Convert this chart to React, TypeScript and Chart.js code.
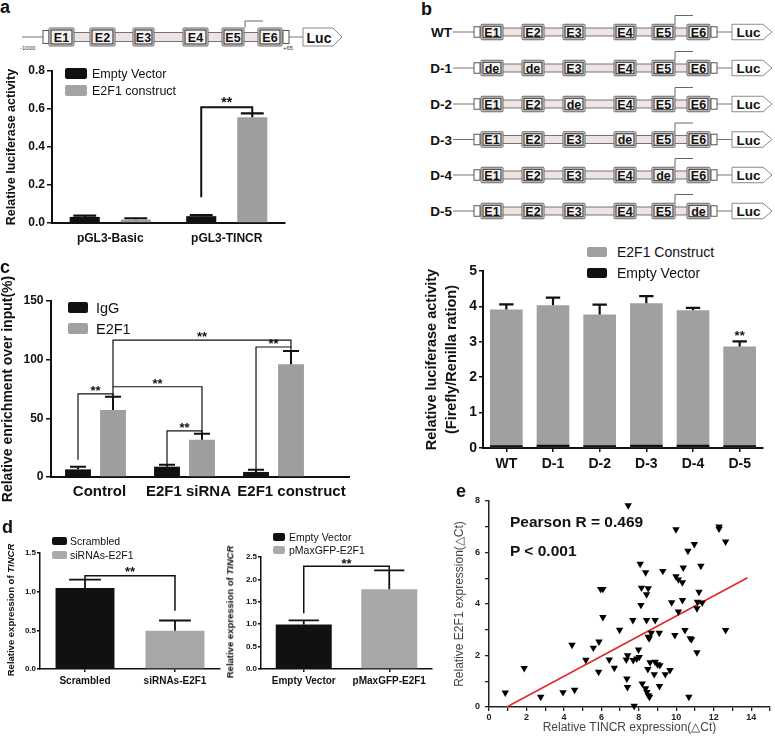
import React, { useEffect, useRef } from 'react';
import { Chart, registerables } from 'chart.js';

Chart.register(...registerables);

const FONT = '"Liberation Sans", Arial, Helvetica, sans-serif';
const INK = '#111111';
const GRAY = '#9e9e9e';

// ---------------- data ----------------
// panel a
const aGroups = ['pGL3-Basic', 'pGL3-TINCR'];
const aEmptyVector = [0.032, 0.036];
const aEmptyVectorErr = [0.007, 0.006];
const aE2F1Construct = [0.018, 0.556];
const aE2F1ConstructErr = [0.007, 0.021];

// panel b
const exonNames = ['E1', 'E2', 'E3', 'E4', 'E5', 'E6'];
const bConstructs = ['WT', 'D-1', 'D-2', 'D-3', 'D-4', 'D-5'];
const bRowExons = [
  ['E1', 'E2', 'E3', 'E4', 'E5', 'E6'],
  ['de', 'de', 'E3', 'E4', 'E5', 'E6'],
  ['E1', 'E2', 'de', 'E4', 'E5', 'E6'],
  ['E1', 'E2', 'E3', 'de', 'E5', 'E6'],
  ['E1', 'E2', 'E3', 'E4', 'de', 'E6'],
  ['E1', 'E2', 'E3', 'E4', 'E5', 'de'],
];
const bE2F1Construct = [3.91, 4.03, 3.77, 4.09, 3.89, 2.87];
const bE2F1ConstructErr = [0.15, 0.22, 0.28, 0.2, 0.07, 0.14];
const bEmptyVector = [0.08, 0.09, 0.08, 0.09, 0.09, 0.08];

// panel c
const cGroups = ['Control', 'E2F1 siRNA', 'E2F1 construct'];
const cIgG = [6.5, 8.8, 4.3];
const cIgGErr = [2.3, 1.7, 1.8];
const cE2F1 = [57, 31.7, 96.2];
const cE2F1Err = [11.3, 5.1, 11.1];

// panel d
const dLeftGroups = ['Scrambled', 'siRNAs-E2F1'];
const dLeftValues = [1.046, 0.493];
const dLeftErr = [0.11, 0.134];
const dRightGroups = ['Empty Vector', 'pMaxGFP-E2F1'];
const dRightValues = [0.994, 1.78];
const dRightErr = [0.09, 0.42];

// panel e
const eTincr = [
  0.87, 1.88, 2.76, 3.95, 4.43, 4.57, 5.17, 5.57, 5.87, 5.85, 5.96, 6.08, 6.08, 6.42, 6.69, 6.97,
  7.43, 7.36, 7.39, 7.33, 7.40, 7.70, 7.89, 8.02, 7.98, 7.68, 7.75, 8.18, 8.36, 8.43, 8.51, 8.57,
  8.48, 8.60, 8.82, 8.87, 9.00, 9.12, 9.10, 9.41, 9.66, 8.55, 8.50, 8.66, 9.09, 8.41, 8.87, 8.11,
  8.41, 8.14, 8.50, 8.07, 8.36, 9.28, 9.92, 10.46, 10.74, 10.81, 11.10, 10.67, 12.63, 9.75, 10.11,
  10.33, 11.10, 11.13, 11.38, 11.21, 9.98, 10.11, 10.32, 10.37, 11.31, 10.62, 10.96, 9.98, 12.28,
  12.28, 12.63,
];
const eE2F1 = [
  0.56, 1.51, 0.39, 0.57, 2.41, 0.66, 1.83, 2.30, 2.54, 1.36, 4.58, 4.58, 3.49, 1.84, 1.52, 2.99,
  7.83, 1.10, 0.77, 1.84, 2.00, 1.82, 1.88, 1.94, 2.23, 3.37, 0.04, 0.91, 0.72, 0.58, 0.45, 0.39,
  1.47, 1.73, 1.27, 1.75, 1.65, 1.62, 0.81, 1.27, 1.43, 2.66, 2.72, 2.88, 2.88, 3.37, 3.37, 3.96,
  4.37, 4.63, 4.61, 5.56, 5.23, 5.28, 2.79, 2.98, 2.66, 2.63, 2.12, 0.39, 2.98, 4.06, 3.70,
  4.15, 3.83, 4.08, 4.05, 4.47, 5.07, 4.95, 4.84, 5.41, 5.48, 6.06, 6.32, 6.90, 6.92,
  7.00, 6.42,
];
const eFitX = [0.95, 13.8];
const eFitY = [0, 5.02];

// ---------------- plugins ----------------
const errorBars = {
  id: 'errbars',
  afterDatasetsDraw(chart: any, _a: any, opts: any) {
    const errs = opts.errors;
    if (!errs) return;
    const ctx = chart.ctx;
    const ys = chart.scales.y;
    ctx.save();
    ctx.strokeStyle = opts.color || INK;
    ctx.lineWidth = opts.lineWidth || 2;
    errs.forEach((arr: number[] | null, di: number) => {
      if (!arr) return;
      const meta = chart.getDatasetMeta(di);
      meta.data.forEach((el: any, i: number) => {
        const e = arr[i];
        if (e == null) return;
        const v = chart.data.datasets[di].data[i];
        const yTop = ys.getPixelForValue(v);
        const yE = ys.getPixelForValue(v + e);
        const half = el.width * (opts.cap ?? 0.3);
        ctx.beginPath();
        ctx.moveTo(el.x, yTop);
        ctx.lineTo(el.x, yE);
        ctx.moveTo(el.x - half, yE);
        ctx.lineTo(el.x + half, yE);
        ctx.stroke();
      });
    });
    ctx.restore();
  },
};

const brackets = {
  id: 'brackets',
  afterDatasetsDraw(chart: any, _a: any, opts: any) {
    const items = opts.items || [];
    const ctx = chart.ctx;
    const ys = chart.scales.y;
    ctx.save();
    ctx.strokeStyle = INK;
    ctx.fillStyle = INK;
    ctx.lineWidth = opts.lineWidth || 1.5;
    ctx.font = `bold ${opts.size || 13}px ${FONT}`;
    ctx.textAlign = 'center';
    ctx.textBaseline = 'alphabetic';
    items.forEach((b: any) => {
      const x1 = chart.getDatasetMeta(b.a[0]).data[b.a[1]].x;
      const x2 = chart.getDatasetMeta(b.b[0]).data[b.b[1]].x;
      const y = ys.getPixelForValue(b.y);
      if (!b.textOnly) {
        ctx.beginPath();
        ctx.moveTo(x1, ys.getPixelForValue(b.y1));
        ctx.lineTo(x1, y);
        ctx.lineTo(x2, y);
        ctx.lineTo(x2, ys.getPixelForValue(b.y2));
        ctx.stroke();
      }
      ctx.fillText('**', (x1 + x2) / 2, y + (opts.dy ?? 0));
    });
    ctx.restore();
  },
};

const extendX = {
  id: 'extendX',
  afterDraw(chart: any, _a: any, opts: any) {
    if (!opts.by) return;
    const { ctx, chartArea } = chart;
    ctx.save();
    ctx.strokeStyle = INK;
    ctx.lineWidth = opts.width || 2;
    ctx.beginPath();
    ctx.moveTo(chartArea.right - 1, chartArea.bottom);
    ctx.lineTo(chartArea.right + opts.by, chartArea.bottom);
    ctx.stroke();
    ctx.restore();
  },
};

// category labels drawn under the axis with a small per-label nudge (as in the original figure)
const catLabels = {
  id: 'catLabels',
  afterDraw(chart: any, _a: any, opts: any) {
    if (!opts.size) return;
    const { ctx, chartArea } = chart;
    const xs = chart.scales.x;
    const labels = chart.data.labels;
    ctx.save();
    ctx.fillStyle = INK;
    ctx.font = `bold ${opts.size}px ${FONT}`;
    ctx.textAlign = 'center';
    ctx.textBaseline = 'middle';
    labels.forEach((lab: string, i: number) => {
      ctx.fillText(lab, xs.getPixelForValue(i) + (opts.shift?.[i] || 0), chartArea.bottom + opts.dy);
    });
    ctx.restore();
  },
};

// ---------------- scale helpers ----------------
function yAxis(o: any) {
  const ticks: any = {
    stepSize: o.step,
    padding: o.pad,
    color: o.color || INK,
    font: { family: FONT, size: o.size, weight: 'bold' },
  };
  if (o.fmt) ticks.callback = (v: any) => o.fmt(Number(v));
  return {
    type: 'linear',
    min: o.min,
    max: o.max,
    ticks,
    grid: { drawOnChartArea: false, drawTicks: true, tickLength: o.tl, color: INK, lineWidth: o.tw || 1.5 },
    border: { display: true, color: INK, width: o.bw || 2 },
    title: o.title || { display: false },
    afterFit: (s: any) => {
      s.width = o.width;
    },
  };
}

function xCat(o: any) {
  return {
    type: 'category',
    offset: true,
    ticks: {
      display: o.hideLabels ? false : true,
      padding: o.pad,
      color: INK,
      font: { family: FONT, size: o.size, weight: 'bold' },
      maxRotation: 0,
      autoSkip: false,
    },
    grid: {
      display: !!o.tl,
      drawOnChartArea: false,
      drawTicks: !!o.tl,
      tickLength: o.tl || 0,
      offset: false,
      color: INK,
      lineWidth: 1.5,
    },
    border: { display: true, color: INK, width: o.bw || 2 },
    afterFit: (s: any) => {
      s.height = o.height;
    },
  };
}

const baseOpts = (pad: any) => ({
  responsive: false,
  animation: false,
  devicePixelRatio: 1,
  layout: { padding: pad },
  events: [],
});

// ---------------- chart configs ----------------
function configA() {
  return {
    type: 'bar',
    data: {
      labels: aGroups,
      datasets: [
        { label: 'Empty Vector', data: aEmptyVector, backgroundColor: INK, categoryPercentage: 0.876, barPercentage: 0.59 },
        { label: 'E2F1 construct', data: aE2F1Construct, backgroundColor: GRAY, categoryPercentage: 0.876, barPercentage: 0.59 },
      ],
    },
    options: {
      ...baseOpts({ top: 11, right: 15, left: 0, bottom: 0 }),
      plugins: {
        legend: { display: false },
        tooltip: { enabled: false },
        errbars: { errors: [aEmptyVectorErr, aE2F1ConstructErr], cap: 0.38, lineWidth: 2.2 },
        brackets: { size: 14, lineWidth: 2, dy: 0, items: [{ a: [0, 1], b: [1, 1], y: 0.609, y1: 0.135, y2: 0.577 }] },
      },
      scales: {
        x: xCat({ height: 32, size: 12, pad: 8 }),
        y: yAxis({
          min: 0, max: 0.8, step: 0.2, width: 52, size: 12, tl: 5, pad: 2,
          fmt: (v: number) => v.toFixed(1),
          title: { display: true, text: 'Relative luciferase activity', color: INK, font: { family: FONT, size: 12.5, weight: 'bold' }, padding: { top: 4.5, bottom: 0 } },
        }),
      },
    },
    plugins: [errorBars, brackets],
  };
}

function configB() {
  return {
    type: 'bar',
    data: {
      labels: bConstructs,
      datasets: [
        { label: 'Empty Vector', data: bEmptyVector, backgroundColor: INK, grouped: false, categoryPercentage: 1, barPercentage: 0.7 },
        { label: 'E2F1 Construct', data: bE2F1Construct, backgroundColor: '#a0a0a3', grouped: false, categoryPercentage: 1, barPercentage: 0.7 },
      ],
    },
    options: {
      ...baseOpts({ top: 11, right: 12, left: 0, bottom: 0 }),
      plugins: {
        legend: { display: false },
        tooltip: { enabled: false },
        errbars: { errors: [null, bE2F1ConstructErr], cap: 0.22, lineWidth: 2.2 },
        brackets: { size: 13, dy: 0, items: [{ a: [1, 5], b: [1, 5], y: 3.06, textOnly: true }] },
      },
      scales: {
        x: xCat({ height: 32, size: 14, pad: 4, tl: 4 }),
        y: yAxis({
          min: 0, max: 5, step: 1, width: 93, size: 14, tl: 4, pad: 2,
          title: {
            display: true,
            text: ['Relative luciferase activity', '(Firefly/Renilla ration)'],
            color: INK,
            font: { family: FONT, size: 14.5, weight: 'bold', lineHeight: 1.4 },
            padding: { top: 32, bottom: 0 },
          },
        }),
      },
    },
    plugins: [errorBars, brackets],
  };
}

function configC() {
  return {
    type: 'bar',
    data: {
      labels: cGroups,
      datasets: [
        { label: 'IgG', data: cIgG, backgroundColor: INK, categoryPercentage: 0.786, barPercentage: 0.74 },
        { label: 'E2F1', data: cE2F1, backgroundColor: GRAY, categoryPercentage: 0.786, barPercentage: 0.74 },
      ],
    },
    options: {
      ...baseOpts({ top: 46, right: 72, left: 0, bottom: 0 }),
      plugins: {
        legend: { display: false },
        tooltip: { enabled: false },
        errbars: { errors: [cIgGErr, cE2F1Err], cap: 0.31, lineWidth: 2 },
        brackets: {
          size: 13, lineWidth: 1.2, dy: 1,
          items: [
            { a: [0, 0], b: [1, 0], y: 70.8, y1: 14.7, y2: 68.3 },
            { a: [1, 0], b: [1, 1], y: 76.9, y1: 68.3, y2: 37.2 },
            { a: [0, 1], b: [1, 1], y: 39.3, y1: 10.5, y2: 36.8 },
            { a: [1, 0], b: [1, 2], y: 116.7, y1: 76.9, y2: 110.8 },
            { a: [0, 2], b: [1, 2], y: 110.8, y1: 6.2, y2: 107.3 },
          ],
        },
        extendX: { by: 32, width: 2 },
        catLabels: { size: 15, dy: 15, shift: [4, 4, 18] },
      },
      scales: {
        x: xCat({ height: 28, size: 15, pad: 6, hideLabels: true }),
        y: yAxis({
          min: 0, max: 150, step: 50, width: 51, size: 12, tl: 5, pad: 2.5,
          title: { display: true, text: 'Relative enrichment over input(%)', color: INK, font: { family: FONT, size: 14, weight: 'bold' }, padding: { top: 0, bottom: 0 } },
        }),
      },
    },
    plugins: [errorBars, brackets, extendX, catLabels],
  };
}

function configD(labels: string[], values: number[], errs: number[], max: number, yWidth: number, pad: any, bracket: any, dy: number) {
  return {
    type: 'bar',
    data: {
      labels,
      datasets: [
        { data: values, backgroundColor: [INK, '#a8a8a8'], categoryPercentage: 1, barPercentage: 0.655 },
      ],
    },
    options: {
      ...baseOpts(pad),
      plugins: {
        legend: { display: false },
        tooltip: { enabled: false },
        errbars: { errors: [errs], cap: 0.27, lineWidth: 1.8 },
        brackets: { size: 13, lineWidth: 1.5, dy, items: [bracket] },
      },
      scales: {
        x: xCat({ height: 31, size: 10, pad: 3, tl: 3, bw: 1.5 }),
        y: yAxis({ min: 0, max, step: 0.5, width: yWidth, size: 8, tl: 3, pad: 1, bw: 1.5, fmt: (v: number) => v.toFixed(1) }),
      },
    },
    plugins: [errorBars, brackets],
  };
}

function configE() {
  const pts = eTincr.map((x, i) => ({ x, y: eE2F1[i] }));
  const fit = eFitX.map((x, i) => ({ x, y: eFitY[i] }));
  const tickFont = { family: FONT, size: 9, weight: 'bold' };
  return {
    type: 'scatter',
    data: {
      datasets: [
        { data: pts, pointStyle: 'triangle', rotation: 180, radius: 4.3, backgroundColor: '#000', borderWidth: 0, clip: false },
        { type: 'line', data: fit, borderColor: '#e3262b', borderWidth: 1.6, pointRadius: 0, showLine: true, fill: false },
      ],
    },
    options: {
      ...baseOpts({ top: 16, right: 5, left: 0, bottom: 0 }),
      plugins: { legend: { display: false }, tooltip: { enabled: false } },
      scales: {
        x: {
          type: 'linear', min: 0, max: 15,
          ticks: { stepSize: 1, padding: 1, color: '#222', font: tickFont, callback: (v: any) => (Number(v) % 2 === 0 && Number(v) <= 14 ? String(v) : '') },
          grid: { drawOnChartArea: false, drawTicks: true, tickLength: 4, color: '#222', lineWidth: 1.3 },
          border: { display: true, color: '#222', width: 1.5 },
          title: { display: true, text: 'Relative TINCR expression(△Ct)', color: '#444', font: { family: FONT, size: 12 }, padding: { top: 0, bottom: 8.8 } },
          afterFit: (s: any) => { s.height = 37; },
        },
        y: {
          type: 'linear', min: 0, max: 8,
          ticks: { stepSize: 1, padding: 5, color: '#222', font: tickFont, callback: (v: any) => (Number(v) % 2 === 0 ? String(v) : '') },
          grid: { drawOnChartArea: false, drawTicks: true, tickLength: 4, color: '#222', lineWidth: 1.3 },
          border: { display: true, color: '#222', width: 1.5 },
          title: { display: true, text: 'Relative E2F1 expression(△Ct)', color: '#444', font: { family: FONT, size: 12 }, padding: { top: 12.8, bottom: 0 } },
          afterFit: (s: any) => { s.width = 49; },
        },
      },
    },
  };
}

// ---------------- components ----------------
function ChartBox({ left, top, width, height, make }: { left: number; top: number; width: number; height: number; make: () => any }) {
  const ref = useRef<HTMLCanvasElement | null>(null);
  useEffect(() => {
    if (!ref.current) return;
    const chart = new Chart(ref.current, make());
    return () => chart.destroy();
  }, []);
  return (
    <canvas
      ref={ref}
      width={width}
      height={height}
      style={{ position: 'absolute', left, top, width, height }}
    />
  );
}

function Txt({ x, cy, size, bold, children, color, italic }: any) {
  return (
    <div
      style={{
        position: 'absolute',
        left: x,
        top: cy,
        transform: 'translateY(-50%)',
        fontFamily: FONT,
        fontSize: size,
        fontWeight: bold ? 'bold' : 'normal',
        fontStyle: italic ? 'italic' : 'normal',
        color: color || INK,
        lineHeight: 1,
        whiteSpace: 'nowrap',
      }}
    >
      {children}
    </div>
  );
}

function PanelLetter({ x, baseline, children }: any) {
  const size = 18;
  return (
    <div style={{ position: 'absolute', left: x, top: baseline - 0.8465 * size, fontFamily: FONT, fontSize: size, fontWeight: 'bold', lineHeight: 1, color: INK }}>
      {children}
    </div>
  );
}

function Swatch({ x1, y1, x2, y2, color }: any) {
  return <div style={{ position: 'absolute', left: x1, top: y1, width: x2 - x1, height: y2 - y1, background: color, borderRadius: 2 }} />;
}

function VText({ cx, cy, size, children, bold, color }: any) {
  return (
    <div
      style={{
        position: 'absolute',
        left: cx,
        top: cy,
        transform: 'translate(-50%, -50%) rotate(-90deg)',
        fontFamily: FONT,
        fontSize: size,
        fontWeight: bold ? 'bold' : 'normal',
        color: color || INK,
        lineHeight: 1,
        whiteSpace: 'nowrap',
      }}
    >
      {children}
    </div>
  );
}

function GeneRow(p: {
  cy: number; lineX1: number; brL: number[]; exons: number[][]; labels: string[]; brR: number[];
  luc: number[]; h: number; band: number; promX: number; promTop: number; promEnd: number; fs: number; lucFs: number;
}) {
  const { cy, h, band } = p;
  const lucTip = p.luc[1] - 9;
  return (
    <g>
      <line x1={p.lineX1} y1={cy} x2={p.luc[0]} y2={cy} stroke="#777" strokeWidth={1} />
      <rect x={p.brL[1]} y={cy - band / 2} width={p.brR[0] - p.brL[1]} height={band} fill="#efe4e4" stroke="#666" strokeWidth={0.9} />
      <rect x={p.brL[0]} y={cy - h / 2 + 2.5} width={p.brL[1] - p.brL[0]} height={h - 5} fill="#fff" stroke="#555" strokeWidth={1} />
      <rect x={p.brR[0]} y={cy - h / 2 + 2.5} width={p.brR[1] - p.brR[0]} height={h - 5} fill="#fff" stroke="#555" strokeWidth={1} />
      {p.exons.map((e, i) => (
        <g key={i}>
          <rect x={e[0]} y={cy - h / 2} width={e[1] - e[0]} height={h} fill="#e9e3e3" stroke="#666" strokeWidth={1} rx={1} />
          <rect x={e[0] + 2} y={cy - h / 2 + 2} width={e[1] - e[0] - 4} height={h - 4} fill="#f5f1f1" stroke="#333" strokeWidth={1.1} />
          <text x={(e[0] + e[1]) / 2} y={cy + 0.5} textAnchor="middle" dominantBaseline="central" fontFamily={FONT} fontWeight="bold" fontSize={p.fs} fill="#111">
            {p.labels[i]}
          </text>
        </g>
      ))}
      <polygon
        points={`${p.luc[0]},${cy - h / 2} ${lucTip},${cy - h / 2} ${p.luc[1]},${cy} ${lucTip},${cy + h / 2} ${p.luc[0]},${cy + h / 2}`}
        fill="#fff"
        stroke="#888"
        strokeWidth={1}
      />
      <text x={(p.luc[0] + lucTip) / 2 + 1} y={cy + 0.5} textAnchor="middle" dominantBaseline="central" fontFamily={FONT} fontWeight="bold" fontSize={p.lucFs} fill="#111">
        Luc
      </text>
      <path d={`M${p.promX},${cy - h / 2} V${p.promTop} H${p.promEnd}`} fill="none" stroke="#666" strokeWidth={1} />
    </g>
  );
}

const aExonPos = [[49, 74], [90, 115], [133, 154], [183, 208], [222, 244], [258, 282]];
const bExonPos = [[481, 503], [522, 544], [563, 585], [614, 636], [652, 675], [687, 710]];
const bRowY = [32, 68, 104, 139.5, 175, 211];

function Diagrams() {
  return (
    <svg width={775} height={260} style={{ position: 'absolute', left: 0, top: 0 }}>
      <GeneRow
        cy={37} lineX1={22} brL={[43, 49]} exons={aExonPos} labels={exonNames} brR={[283, 289]}
        luc={[303, 342]} h={18} band={9} promX={245} promTop={21} promEnd={263} fs={12.5} lucFs={14}
      />
      <text x={20} y={50} fontFamily={FONT} fontSize={6} fill="#333">-1000</text>
      <text x={283} y={50} fontFamily={FONT} fontSize={6} fill="#333">+65</text>
      {bConstructs.map((name, r) => (
        <g key={name}>
          <text x={452} y={bRowY[r] + 0.5} textAnchor="end" dominantBaseline="central" fontFamily={FONT} fontWeight="bold" fontSize={13.5} fill="#111">
            {name}
          </text>
          <GeneRow
            cy={bRowY[r]} lineX1={453} brL={[474, 480]} exons={bExonPos} labels={bRowExons[r]} brR={[711, 717]}
            luc={[732, 772]} h={15.5} band={8} promX={675} promTop={bRowY[r] - 16.5} promEnd={693} fs={12.5} lucFs={13.5}
          />
        </g>
      ))}
    </svg>
  );
}

export default function App() {
  return (
    <div style={{ position: 'absolute', left: 0, top: 0, width: 775, height: 744, background: '#fff', overflow: 'hidden' }}>
      <Diagrams />
      <ChartBox left={0} top={60} width={300} height={195} make={configA} />
      <ChartBox left={390} top={260} width={385} height={220} make={configB} />
      <ChartBox left={0} top={255} width={390} height={250} make={configC} />
      <ChartBox
        left={0} top={530} width={235} height={170}
        make={() => configD(dLeftGroups, dLeftValues, dLeftErr, 1.5, 40, { top: 23, right: 15, left: 0, bottom: 0 },
          { a: [0, 0], b: [0, 1], y: 1.206, y1: 1.156, y2: 0.752 }, 0)}
      />
      <ChartBox
        left={235} top={530} width={215} height={170}
        make={() => configD(dRightGroups, dRightValues, dRightErr, 2.5, 26, { top: 27, right: 18, left: 0, bottom: 0 },
          { a: [0, 0], b: [0, 1], y: 2.294, y1: 1.247, y2: 2.2 }, 2)}
      />
      <ChartBox left={440} top={485} width={335} height={259} make={configE} />

      {/* panel letters */}
      <PanelLetter x={0} baseline={13}>a</PanelLetter>
      <PanelLetter x={421} baseline={15}>b</PanelLetter>
      <PanelLetter x={0} baseline={273}>c</PanelLetter>
      <PanelLetter x={2} baseline={533}>d</PanelLetter>
      <PanelLetter x={456} baseline={497}>e</PanelLetter>

      {/* legend a */}
      <Swatch x1={65} y1={68} x2={87} y2={79} color={INK} />
      <Txt x={92} cy={73.5} size={12.5}>Empty Vector</Txt>
      <Swatch x1={65} y1={85} x2={87} y2={96} color="#a3a3a3" />
      <Txt x={92} cy={90.5} size={12.5}>E2F1 construct</Txt>

      {/* legend b */}
      <Swatch x1={587} y1={247} x2={607} y2={257} color="#a0a0a3" />
      <Txt x={617} cy={252} size={14}>E2F1 Construct</Txt>
      <Swatch x1={587} y1={268} x2={607} y2={278} color={INK} />
      <Txt x={617} cy={273} size={14}>Empty Vector</Txt>

      {/* legend c */}
      <Swatch x1={68} y1={302} x2={88} y2={313} color={INK} />
      <Txt x={96} cy={308} size={14.5}>IgG</Txt>
      <Swatch x1={68} y1={323} x2={88} y2={334} color="#a0a0a0" />
      <Txt x={96} cy={328.5} size={14.5}>E2F1</Txt>

      {/* legend d left */}
      <Swatch x1={52} y1={537} x2={67} y2={545} color={INK} />
      <Txt x={70} cy={541} size={10.5}>Scrambled</Txt>
      <Swatch x1={52} y1={551} x2={67} y2={559} color="#aaaaaa" />
      <Txt x={70} cy={555} size={10.5}>siRNAs-E2F1</Txt>

      {/* legend d right */}
      <Swatch x1={273} y1={533} x2={285} y2={541} color={INK} />
      <Txt x={289} cy={537} size={10.5}>Empty Vector</Txt>
      <Swatch x1={273} y1={546} x2={285} y2={554} color="#aaaaaa" />
      <Txt x={289} cy={550} size={10.5}>pMaxGFP-E2F1</Txt>

      {/* d axis titles */}
      <VText cx={11} cy={610} size={9.5} bold>
        Relative expression of <i>TINCR</i>
      </VText>
      <VText cx={230} cy={612} size={9.5} bold>
        Relative expression of <i>TINCR</i>
      </VText>

      {/* e annotation */}
      <Txt x={510} cy={522} size={15.5} bold>Pearson R = 0.469</Txt>
      <Txt x={510} cy={551} size={15.5} bold>P &lt; 0.001</Txt>
    </div>
  );
}
